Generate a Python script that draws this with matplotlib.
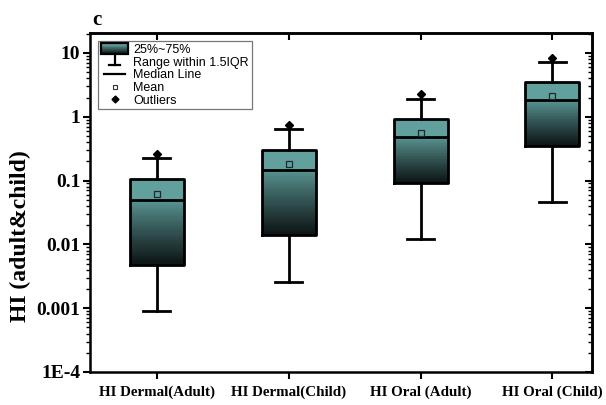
import matplotlib
matplotlib.use("Agg")
import matplotlib.pyplot as plt
import numpy as np
from matplotlib.patches import Rectangle
from matplotlib.lines import Line2D
from matplotlib.legend_handler import HandlerBase
from matplotlib.colors import to_rgb
from matplotlib.ticker import FixedLocator, FixedFormatter, LogLocator, NullFormatter

# hazard index box statistics per exposure route / group
groups = ["HI Dermal(Adult)", "HI Dermal(Child)", "HI Oral (Adult)", "HI Oral (Child)"]
q1 = [0.0048, 0.014, 0.092, 0.35]
median = [0.049, 0.147, 0.475, 1.80]
q3 = [0.104, 0.305, 0.92, 3.49]
whis_lo = [0.00091, 0.0026, 0.0121, 0.046]
whis_hi = [0.223, 0.65, 1.91, 7.3]
means = [0.0626, 0.182, 0.56, 2.15]
outliers = [[0.26], [0.75], [2.26], [8.45]]

ytick_vals = [1e-4, 1e-3, 1e-2, 1e-1, 1, 10]
ytick_text = ["1E-4", "0.001", "0.01", "0.1", "1", "10"]

TEAL = "#62a09e"
TEAL_MID = "#5a9694"
DARK = "#0c1313"


def blend(c1, c2, t):
    a, b = np.array(to_rgb(c1)), np.array(to_rgb(c2))
    return tuple(a + (b - a) * t)


fig = plt.figure(figsize=(6.06, 4.05), dpi=100)
ax = fig.add_axes([0.1485, 0.0815, 0.8284, 0.837])
ax.set_yscale("log")

pos = np.arange(1, len(groups) + 1)
box_w = 0.41

# gradient fill: flat teal above the median, fading to black below it
n_seg = 60
for x, lo, med, hi in zip(pos, q1, median, q3):
    ax.bar(x, hi - med, bottom=med, width=box_w, color=TEAL, linewidth=0, zorder=1)
    edges = np.logspace(np.log10(lo), np.log10(med), n_seg + 1)
    for k in range(n_seg):
        t = 1 - (k + 0.5) / n_seg
        ax.bar(x, edges[k + 1] - edges[k], bottom=edges[k], width=box_w,
               color=blend(TEAL_MID, DARK, t ** 0.9), linewidth=0, zorder=1)

stats = []
for i in range(len(groups)):
    stats.append(dict(med=median[i], q1=q1[i], q3=q3[i], whislo=whis_lo[i],
                      whishi=whis_hi[i], mean=means[i], fliers=outliers[i]))

lw = 2.0
ax.bxp(stats, positions=pos, widths=box_w, showmeans=True, capwidths=0.205,
       boxprops=dict(color="black", linewidth=lw),
       whiskerprops=dict(color="black", linewidth=lw),
       capprops=dict(color="black", linewidth=lw),
       medianprops=dict(color="black", linewidth=lw),
       meanprops=dict(marker="s", markersize=5, markerfacecolor="none",
                      markeredgecolor="#1b2b2b", markeredgewidth=0.9),
       flierprops=dict(marker="D", markersize=3.8, markerfacecolor="black",
                       markeredgecolor="black"),
       zorder=3)

ax.set_xlim(0.492, 4.30)
ax.set_ylim(1e-4, 20.5)

ax.set_xticks(pos)
ax.set_xticklabels(groups, fontfamily="Liberation Serif", fontweight="bold", fontsize=10.8)
ax.yaxis.set_major_locator(FixedLocator(ytick_vals))
ax.yaxis.set_major_formatter(FixedFormatter(ytick_text))
ax.yaxis.set_minor_locator(LogLocator(base=10, subs=np.arange(2, 10), numticks=20))
ax.yaxis.set_minor_formatter(NullFormatter())
for lab in ax.get_yticklabels():
    lab.set_fontfamily("Liberation Serif")
    lab.set_fontweight("bold")
    lab.set_fontsize(14)

for sp in ax.spines.values():
    sp.set_linewidth(1.8)

ax.tick_params(axis="y", which="major", direction="out", length=5, width=1.5, left=True, right=False, pad=2)
ax.tick_params(axis="y", which="minor", direction="out", length=3, width=1.0, left=True, right=False)
ax.tick_params(axis="x", which="major", direction="out", length=5, width=1.5, pad=5)

# mirrored ticks on top and right, pointing inward
sec_y = ax.secondary_yaxis("right")
sec_y.yaxis.set_major_locator(FixedLocator(ytick_vals))
sec_y.yaxis.set_minor_locator(LogLocator(base=10, subs=np.arange(2, 10), numticks=20))
sec_y.yaxis.set_major_formatter(NullFormatter())
sec_y.yaxis.set_minor_formatter(NullFormatter())
sec_y.tick_params(which="major", direction="in", length=5, width=1.5)
sec_y.tick_params(which="minor", direction="in", length=3, width=1.0)
sec_y.spines["right"].set_linewidth(1.8)

sec_x = ax.secondary_xaxis("top")
sec_x.set_xticks(pos)
sec_x.xaxis.set_major_formatter(NullFormatter())
sec_x.tick_params(direction="in", length=5, width=1.5)
sec_x.spines["top"].set_linewidth(1.8)

ax.set_ylabel("HI (adult&child)", fontfamily="Liberation Serif", fontweight="bold",
              fontsize=17)
ax.yaxis.set_label_coords(-0.118, 0.40)

fig.text(0.153, 0.938, "c", fontfamily="Liberation Serif", fontweight="bold",
         fontsize=15, va="baseline")


class BoxHandle(HandlerBase):
    def create_artists(self, legend, orig_handle, xdescent, ydescent, width, height,
                       fontsize, trans):
        arts = []
        n = 12
        y0, h = -ydescent - 0.1 * height, 1.3 * height
        for k in range(n):
            t = k / (n - 1)
            arts.append(Rectangle((-xdescent, y0 + h * (1 - (k + 1) / n)), width, h / n,
                                  facecolor=blend(TEAL, DARK, t ** 1.3), edgecolor="none",
                                  transform=trans))
        arts.append(Rectangle((-xdescent, y0), width, h, facecolor="none",
                              edgecolor="black", linewidth=1.6, transform=trans))
        return arts


class WhiskerHandle(HandlerBase):
    def create_artists(self, legend, orig_handle, xdescent, ydescent, width, height,
                       fontsize, trans):
        cx = -xdescent + width / 2
        top = -ydescent + 1.3 * height
        bot = -ydescent + 0.05 * height
        stem = Line2D([cx, cx], [bot, top], color="black", linewidth=1.6, transform=trans)
        cap = Line2D([cx - 0.2 * width, cx + 0.2 * width], [bot, bot], color="black",
                     linewidth=1.6, transform=trans)
        return [stem, cap]


class MedianHandle(HandlerBase):
    def create_artists(self, legend, orig_handle, xdescent, ydescent, width, height,
                       fontsize, trans):
        y = -ydescent + height / 2
        return [Line2D([-xdescent + 0.12 * width, -xdescent + 0.88 * width], [y, y],
                       color="black", linewidth=1.6, transform=trans)]


box_h = Rectangle((0, 0), 1, 1)
whisk_h = Line2D([], [])
med_h = Line2D([], [], color="black")
mean_h = Line2D([], [], linestyle="none", marker="s", markersize=3.5,
                markerfacecolor="none", markeredgecolor="#333333", markeredgewidth=0.8)
out_h = Line2D([], [], linestyle="none", marker="D", markersize=3.5,
               markerfacecolor="black", markeredgecolor="black")

leg = ax.legend([box_h, whisk_h, med_h, mean_h, out_h],
                ["25%~75%", "Range within 1.5IQR", "Median Line", "Mean", "Outliers"],
                handler_map={box_h: BoxHandle(), whisk_h: WhiskerHandle(),
                             med_h: MedianHandle()},
                loc="upper left", bbox_to_anchor=(0.016, 0.975), borderaxespad=0,
                prop=dict(family="Liberation Sans", size=9), numpoints=1,
                handlelength=2.2, handletextpad=0.4, labelspacing=0.05,
                borderpad=0.22, fancybox=False, framealpha=1, edgecolor="#777777")
leg.get_frame().set_linewidth(0.9)
leg.set_zorder(5)

fig.savefig("out.png", dpi=100)
